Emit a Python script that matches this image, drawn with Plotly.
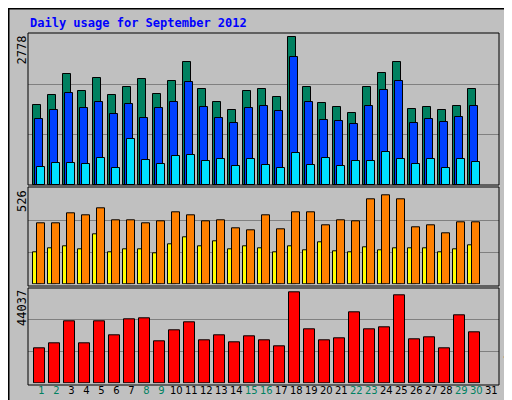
import plotly.graph_objects as go

days = list(range(1, 32))
hits = [1466,1650,2037,1724,1963,1650,1797,1945,1669,1908,2257,1761,1521,1374,1724,1761,1613,2717,1797,1503,1430,1319,1797,2055,2257,1393,1430,1374,1448,1761,None]
files = [1209,1374,1687,1411,1521,1301,1485,1227,1411,1521,1889,1430,1227,1135,1411,1448,1356,2349,1521,1190,1172,1117,1448,1742,1908,1135,1209,1154,1246,1448,None]
pages = [325,399,399,381,491,307,841,454,381,528,546,436,473,344,473,362,307,583,362,491,344,436,436,602,473,381,473,307,473,418,None]
sites = [175,197,207,191,276,175,191,191,170,218,255,207,234,191,207,197,175,207,186,228,181,175,202,186,197,197,197,175,191,213,None]
visits = [335,335,388,377,414,351,351,335,345,393,377,345,351,308,298,377,303,393,393,324,351,345,468,489,468,313,324,282,340,340,None]
kbytes = [16225,18540,28740,18540,28740,22250,29665,30130,19470,24570,28275,19930,22250,19005,21785,19930,17150,42180,25030,19930,20860,32910,25030,25960,40790,20395,21320,16225,31520,23640,None]
max_hits, max_sites, max_kb = 2778, 526, 44037
weekend = {1,2,8,9,15,16,22,23,29,30}
tick_labels = [f'<span style="color:{"#008060" if d in weekend else "black"}">{d}</span>' for d in days]

fig = go.Figure()
line = dict(color="black", width=1)
def bar(y, color, off, w, xa, ya):
    fig.add_trace(go.Bar(x=days, y=y, marker=dict(color=color, line=line), offset=off, width=w,
                         xaxis=xa, yaxis=ya, showlegend=False))
bar(hits, "#008060", -0.53, 0.5, "x", "y")
bar(files, "#0040FF", -0.42, 0.5, "x", "y")
bar(pages, "#00E0FF", -0.27, 0.5, "x", "y")
bar(sites, "#FFFF00", -0.53, 0.5, "x2", "y2")
bar(visits, "#FF8000", -0.27, 0.5, "x2", "y2")
bar(kbytes, "#FF0000", -0.47, 0.69, "x3", "y3")

xr = [0.11, 31.51]
xd = [20/512, 491/512]
common_x = dict(range=xr, domain=xd, showgrid=False, zeroline=False, showticklabels=False, ticks="")
def yax(dom, mx):
    return dict(domain=dom, range=[0, mx], showticklabels=False, tickvals=[mx/3, 2*mx/3],
                gridcolor="#808080", gridwidth=1, zeroline=False, showline=False)
fig.update_layout(
    width=512, height=400, margin=dict(l=0, r=0, t=0, b=0),
    paper_bgcolor="#C0C0C0", plot_bgcolor="#C0C0C0", barmode="overlay", bargap=0,
    font=dict(family="DejaVu Sans Mono", size=11, color="black"),
    xaxis=dict(common_x, anchor="y"),
    xaxis2=dict(common_x, anchor="y2", matches="x"),
    xaxis3=dict(common_x, anchor="y3", matches="x", showticklabels=True, tickvals=days,
                ticktext=tick_labels, tickangle=0, tickfont=dict(size=10, family="DejaVu Sans"), ticklen=0),
    yaxis=dict(yax([1-177/400, 1-26/400], max_hits), anchor="x"),
    yaxis2=dict(yax([1-276.3/400, 1-180.3/400], max_sites), anchor="x2"),
    yaxis3=dict(yax([1-375.3/400, 1-280.3/400], max_kb), anchor="x3"),
)
shapes = [dict(type="rect", xref="paper", yref="paper", x0=0.001, x1=0.999, y0=0.001, y1=0.999,
               line=dict(color="black", width=2))]
for y0, y1 in [(177, 25), (278, 179), (377, 280)]:
    shapes.append(dict(type="rect", xref="paper", yref="paper", x0=20/512, x1=491/512,
                       y0=1-y0/400, y1=1-y1/400, line=dict(color="black", width=1)))
fig.update_layout(shapes=shapes)
ann = [
    dict(x=20/512, y=1-15/400, xanchor="left", yanchor="middle",
         text="<b>Daily usage for September 2012</b>", font=dict(color="#0000FF", size=12)),
    dict(x=14/512, y=1-26/400, xanchor="center", yanchor="top", textangle=-90, text=str(max_hits), font=dict(size=12)),
    dict(x=14/512, y=1-180/400, xanchor="center", yanchor="top", textangle=-90, text=str(max_sites), font=dict(size=12)),
    dict(x=14/512, y=1-280/400, xanchor="center", yanchor="top", textangle=-90, text=str(max_kb), font=dict(size=12)),
    dict(x=502/512, y=1-82/400, xanchor="center", yanchor="middle", textangle=90,
         text='<span style="color:#008060">Hits</span> / <span style="color:#0040FF">Files</span> / <span style="color:#00E0FF">Pages</span>'),
    dict(x=502/512, y=1-238/400, xanchor="center", yanchor="middle", textangle=90,
         text='<span style="color:#FFFF00">Visits</span> / <span style="color:#FF8000">Sites</span>'),
    dict(x=502/512, y=1-354/400, xanchor="center", yanchor="middle", textangle=90,
         text='<span style="color:#FF0000">KBytes</span>'),
]
for a in ann:
    a.update(xref="paper", yref="paper", showarrow=False)
fig.update_layout(annotations=ann)
fig.write_html("out.html")
